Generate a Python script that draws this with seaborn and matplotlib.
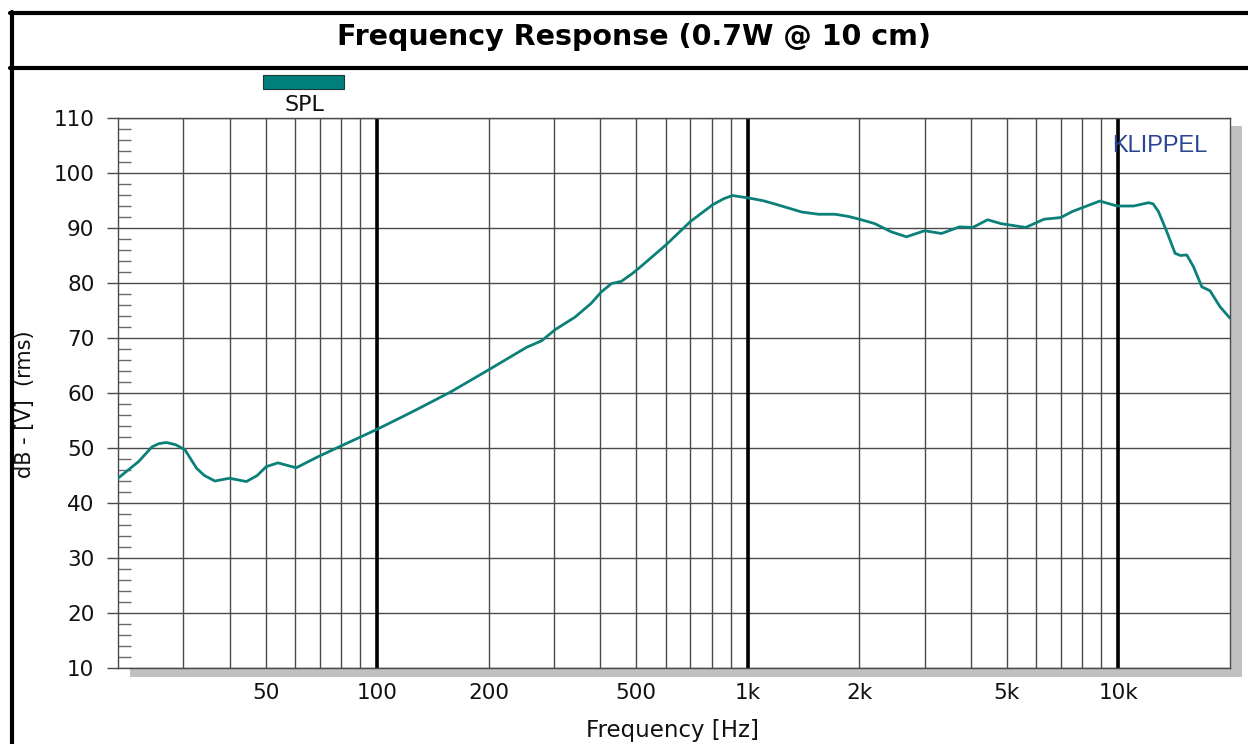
import numpy as np
import pandas as pd
import matplotlib
matplotlib.use("Agg")
import matplotlib.pyplot as plt
import seaborn as sns
from matplotlib.patches import Rectangle
from matplotlib.lines import Line2D
from matplotlib.ticker import FixedLocator, FixedFormatter, MultipleLocator, NullFormatter

sns.set_theme(style="white")
plt.rcParams['font.family'] = ['DejaVu Sans']

# SPL curve
freq = [20, 22.7, 24.7, 25.8, 27, 28.6, 30.3, 32.6, 34.2, 36.5, 40, 44.4, 47.5, 50.2, 54,
        60.5, 69.2, 80.7, 100, 118, 128, 158, 201, 253, 278, 302, 342, 378, 403, 429,
        456, 490, 521, 601, 701, 803, 860, 908, 997, 1094, 1165, 1400, 1552, 1720, 1870,
        2000, 2200, 2440, 2680, 3000, 3330, 3725, 4045, 4438, 4820, 5620, 6300, 6990,
        7510, 8070, 8910, 9910, 10990, 12060, 12400, 12820, 13100, 13510, 14220, 14700,
        15290, 15930, 16790, 17660, 18790, 20000]
spl = [44.5, 47.5, 50.2, 50.8, 51.0, 50.6, 49.7, 46.3, 45.0, 44.0, 44.5, 43.9, 45.0, 46.6,
       47.3, 46.4, 48.4, 50.5, 53.4, 55.8, 57.0, 60.2, 64.3, 68.3, 69.5, 71.5, 73.8, 76.3,
       78.4, 79.9, 80.3, 81.8, 83.3, 86.9, 91.2, 94.2, 95.3, 95.9, 95.5, 95.0, 94.5, 92.9,
       92.5, 92.5, 92.1, 91.6, 90.8, 89.3, 88.4, 89.5, 89.0, 90.2, 90.1, 91.5, 90.8, 90.1,
       91.6, 91.9, 93.0, 93.8, 94.9, 94.0, 94.0, 94.6, 94.4, 93.0, 91.5, 89.3, 85.4, 85.0,
       85.1, 83.0, 79.3, 78.6, 75.7, 73.6]

x_labels = ["50", "100", "200", "500", "1k", "2k", "5k", "10k"]
x_label_pos = [50, 100, 200, 500, 1000, 2000, 5000, 10000]
x_minor = [30, 40, 60, 70, 80, 90, 300, 400, 600, 700, 800, 900,
           3000, 4000, 6000, 7000, 8000, 9000]
decades = [100, 1000, 10000]

df = pd.DataFrame({"Frequency": freq, "SPL": spl})

W, H = 1248, 744
fig = plt.figure(figsize=(W / 100, H / 100), dpi=100)
fig.patch.set_facecolor("white")
ax = fig.add_axes([118 / W, 1 - 668 / H, 1112 / W, 550 / H])

# grey shadow behind the plot frame
fig.add_artist(Rectangle((130 / W, 1 - 677 / H), 1112 / W, 9 / H, transform=fig.transFigure,
                         facecolor="#c0c0c0", edgecolor="none", zorder=0))
fig.add_artist(Rectangle((1231 / W, 1 - 677 / H), 11 / W, 551 / H, transform=fig.transFigure,
                         facecolor="#c0c0c0", edgecolor="none", zorder=0))

ax.set_xscale("log")
ax.set_xlim(20, 20000)
ax.set_ylim(10, 110)

ax.xaxis.set_major_locator(FixedLocator(x_label_pos))
ax.xaxis.set_major_formatter(FixedFormatter(x_labels))
ax.xaxis.set_minor_locator(FixedLocator(x_minor))
ax.xaxis.set_minor_formatter(NullFormatter())
ax.yaxis.set_major_locator(MultipleLocator(10))
ax.yaxis.set_minor_locator(MultipleLocator(2))

ax.grid(which="both", axis="x", color="#4a4a4a", linewidth=1.0)
ax.grid(which="major", axis="y", color="#4a4a4a", linewidth=1.0)
for d in decades:
    ax.axvline(d, color="black", linewidth=2.6, zorder=2)

ax.tick_params(axis="x", which="both", length=0, pad=11, labelsize=15.5, labelcolor="#111111")
ax.tick_params(axis="y", which="major", direction="out", length=8, width=1.0,
               color="#4a4a4a", pad=9, labelsize=15.5, labelcolor="#111111", left=True)
ax.tick_params(axis="y", which="minor", direction="in", length=9.5, width=1.0,
               color="#6a6a6a", left=True)
for side in ["left", "right", "top", "bottom"]:
    ax.spines[side].set_color("#4a4a4a")
    ax.spines[side].set_linewidth(1.0)

sns.lineplot(data=df, x="Frequency", y="SPL", ax=ax, color="#0b8079", linewidth=2.0,
             estimator=None, sort=False, zorder=3, legend=False)
ax.set_xlabel("")
ax.set_ylabel("")

ax.text(0.980, 0.95, "KLIPPEL", transform=ax.transAxes, ha="right", va="center",
        fontsize=17, color="#2a4494", family=["Liberation Sans"])

# legend swatch
fig.add_artist(Rectangle((263 / W, 1 - 89 / H), 81 / W, 14 / H, transform=fig.transFigure,
                         facecolor="#007f7b", edgecolor="#1a3a3a", linewidth=0.8))
fig.text(304 / W, 1 - 105 / H, "SPL", ha="center", va="center", fontsize=16, color="#111111")

fig.text(25 / W, 1 - 404 / H, "dB - [V]  (rms)", rotation=90, ha="center", va="center",
         fontsize=15, color="#111111")
fig.text(673 / W, 1 - 719 / H, "Frequency [Hz]", ha="center", va="top", fontsize=16.5,
         color="#111111")

# title box
fig.text(634 / W, 1 - 37 / H, "Frequency Response (0.7W @ 10 cm)", ha="center", va="center",
         fontsize=20.5, fontweight="bold", color="black")
fig.add_artist(Line2D([10 / W, 1], [1 - 13 / H, 1 - 13 / H], transform=fig.transFigure,
                      color="black", linewidth=3))
fig.add_artist(Line2D([10 / W, 1], [1 - 68 / H, 1 - 68 / H], transform=fig.transFigure,
                      color="black", linewidth=3))
fig.add_artist(Line2D([11.5 / W, 11.5 / W], [0, 1 - 11.5 / H], transform=fig.transFigure,
                      color="black", linewidth=3))

fig.savefig("out.png", dpi=100)
